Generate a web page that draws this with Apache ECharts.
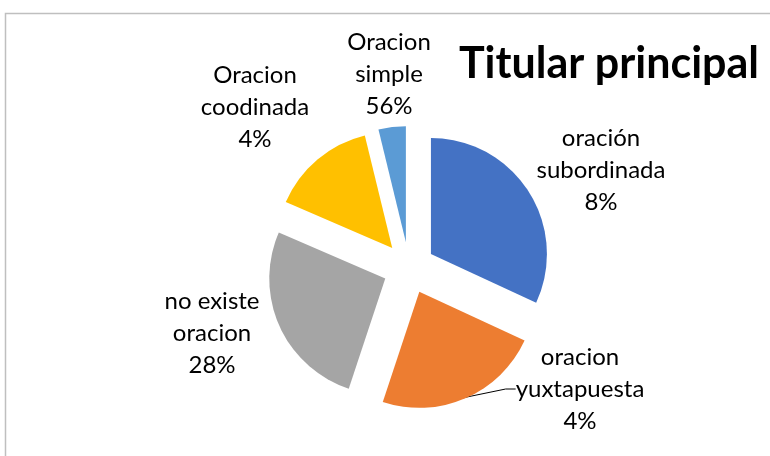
<!DOCTYPE html>
<html lang="es">
<head>
    <meta charset="UTF-8">
    <title>Titular principal</title>
    <script src="https://cdn.jsdelivr.net/npm/echarts@6/dist/echarts.min.js"></script>
    <style>
        html, body {margin: 0; padding: 0; background: #fff;}
        #chart {width: 770px; height: 456px;}
    </style>
</head>
<body>
<div id="chart"></div>
<script>
    // datos
    let categories  = ['oración subordinada', 'oracion yuxtapuesta', 'no existe oracion', 'Oracion coodinada', 'Oracion simple'];
    let sliceValues = [31.9, 23.2, 26.4, 14.7, 3.8];
    let labelPct    = ['8%', '4%', '28%', '4%', '56%'];
    let colors      = ['#4472C4', '#ED7D31', '#A5A5A5', '#FFC000', '#5B9BD5'];

    // posicion de las etiquetas (centro del bloque)
    let labelPos = [[601, 170], [580, 389], [212, 333], [255, 107], [389, 74]];

    let chart  = echarts.init(document.getElementById('chart'));
    let center = [409, 268];

    // sectores separados (sin etiquetas)
    let sliceData = categories.map(function (name, i) {
        return {name: name, value: sliceValues[i], selected: true, itemStyle: {color: colors[i]}};
    });

    // misma serie, transparente, solo para las etiquetas
    let labelData = categories.map(function (name, i) {
        let k = name.lastIndexOf(' ');
        return {
            name     : name,
            value    : sliceValues[i],
            labelLine: {show: i === 1},
            label    : {formatter: name.slice(0, k) + '\n' + name.slice(k + 1) + '\n' + labelPct[i]}
        };
    });

    chart.setOption({
        animation: false,
        title    : {
            text     : 'Titular principal',
            left     : 454,
            top      : 38,
            textStyle: {fontFamily: 'Lato', fontWeight: 'bold', fontSize: 43, color: '#000'}
        },
        graphic  : [{
            type  : 'rect',
            shape : {x: 5.5, y: 13.5, width: 800, height: 500},
            style : {fill: 'none', stroke: '#BFBFBF', lineWidth: 1.5},
            silent: true
        }],
        series   : [
            {
                type          : 'pie',
                center        : center,
                radius        : 116,
                startAngle    : 90,
                clockwise     : true,
                selectedMode  : 'multiple',
                selectedOffset: 26,
                emphasis      : {disabled: true},
                label         : {show: false},
                labelLine     : {show: false},
                data          : sliceData
            },
            {
                type        : 'pie',
                center      : center,
                radius      : 141,
                startAngle  : 90,
                clockwise   : true,
                selectedMode: false,
                silent      : true,
                emphasis    : {disabled: true},
                itemStyle   : {color: 'rgba(0,0,0,0)'},
                label       : {
                    show      : true,
                    color     : '#000',
                    fontFamily: 'Lato',
                    fontSize  : 24,
                    lineHeight: 32,
                    align     : 'center'
                },
                labelLine   : {lineStyle: {color: '#000', width: 1}, smooth: false, length: 10, length2: 10},
                labelLayout : function (p) {
                    let pos = labelPos[p.dataIndex];
                    return {x: pos[0], y: pos[1], align: 'center', verticalAlign: 'middle'};
                },
                data        : labelData
            }
        ]
    });
</script>
</body>
</html>
